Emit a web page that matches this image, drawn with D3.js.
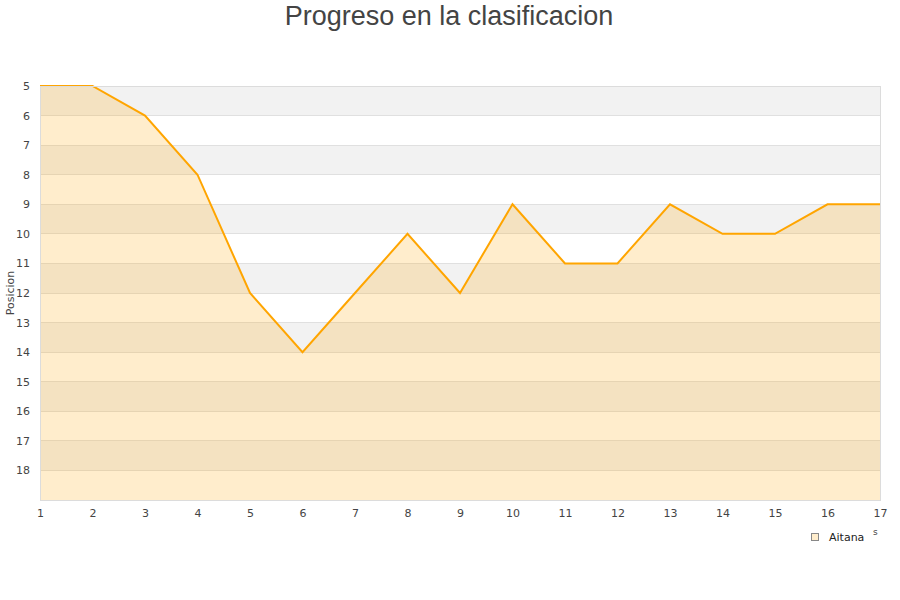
<!DOCTYPE html>
<html><head><meta charset="utf-8">
<script src="https://cdn.jsdelivr.net/npm/d3@7"></script>
<style>body{margin:0;background:#fff;font-family:"DejaVu Sans",sans-serif;}</style>
</head><body><svg id="c" width="900" height="600"></svg>
<script>
const jornadas = [1,2,3,4,5,6,7,8,9,10,11,12,13,14,15,16,17];
const posiciones = [5,5,6,8,12,14,12,10,12,9,11,11,9,10,10,9,9];
const yTicks = [5,6,7,8,9,10,11,12,13,14,15,16,17,18];
const seriesName = "Aitana";
const title = "Progreso en la clasificacion";

const svg = d3.select("#c");
const L=40,R=880,T=86,B=500;
const x = d3.scaleLinear().domain([1,17]).range([L,R]);
const y = d3.scaleLinear().domain([5,19]).range([T,B]);

// bands
for(let v=5; v<19; v++){
  svg.append("rect").attr("x",L).attr("width",R-L).attr("y",y(v)).attr("height",y(v+1)-y(v))
    .attr("fill",(v%2===1)?"#f2f2f2":"#ffffff");
}
// grid
svg.append("g").selectAll("line").data(d3.range(5,20)).join("line")
  .attr("x1",L).attr("x2",R).attr("y1",d=>y(d)).attr("y2",d=>y(d))
  .attr("stroke","#e0e0e0").attr("stroke-width",1).attr("shape-rendering","crispEdges");

const pts = jornadas.map((j,i)=>[j,posiciones[i]]);
svg.append("path").datum(pts)
  .attr("d",d3.area().x(d=>x(d[0])).y0(B).y1(d=>y(d[1])))
  .attr("fill","rgba(255,165,0,0.2)");
svg.append("path").datum(pts)
  .attr("d",d3.line().x(d=>x(d[0])).y(d=>y(d[1])))
  .attr("fill","none").attr("stroke","#ffa500").attr("stroke-width",2);

// frame
svg.append("rect").attr("x",L).attr("y",T).attr("width",R-L).attr("height",B-T)
  .attr("fill","none").attr("stroke","#dcdcdc").attr("shape-rendering","crispEdges");

// axes
const yAxis = d3.axisLeft(y).tickValues(yTicks).tickSize(0).tickPadding(10);
const gy = svg.append("g").attr("transform",`translate(${L},0)`).call(yAxis);
gy.select(".domain").remove();
gy.selectAll("text").attr("fill","#444").attr("font-size",11).attr("font-family","DejaVu Sans");

const xAxis = d3.axisBottom(x).tickValues(jornadas).tickFormat(d3.format("d")).tickSize(0).tickPadding(9);
const gx = svg.append("g").attr("transform",`translate(0,${B})`).call(xAxis);
gx.select(".domain").remove();
gx.selectAll("text").attr("fill","#444").attr("font-size",11).attr("font-family","DejaVu Sans");

svg.append("text").attr("x",449).attr("y",25).attr("text-anchor","middle")
  .attr("font-size",27).attr("fill","#444").attr("font-family","Liberation Sans, Arial, sans-serif").text(title);
svg.append("text").attr("transform","translate(14,293) rotate(-90)").attr("text-anchor","middle")
  .attr("font-size",11).attr("fill","#444").attr("font-family","DejaVu Sans").text("Posicion");

// legend
svg.append("rect").attr("x",811.5).attr("y",533.5).attr("width",7).attr("height",7)
  .attr("fill","#ffedcc").attr("stroke","#888");
svg.append("text").attr("x",829).attr("y",541).attr("font-size",11).attr("fill","#222")
  .attr("font-family","DejaVu Sans").text(seriesName);
svg.append("text").attr("x",873).attr("y",535).attr("font-size",9).attr("fill","#444")
  .attr("font-family","DejaVu Sans").text("s");
</script></body></html>
